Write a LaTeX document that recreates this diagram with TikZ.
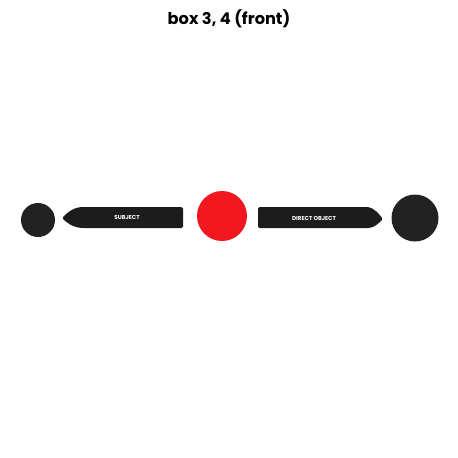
\documentclass[tikz,border=0pt]{standalone}
\usepackage{fontspec}
\setmainfont{Poppins}
\definecolor{darkfill}{HTML}{222222}
\definecolor{barfill}{HTML}{1C1C1C}
\definecolor{redfill}{HTML}{F2161E}
\begin{document}
\begin{tikzpicture}[x=1pt,y=-1pt,
  disc/.style={circle,fill=darkfill,inner sep=0pt},
  barlabel/.style={text=white,font=\fontsize{5.7}{6}\selectfont\bfseries,inner sep=0pt}]
\useasboundingbox (0,0) rectangle (458,458);
\node[font=\fontsize{16.2}{19}\selectfont\bfseries] (title) at (229,18.5) {box 3, 4 (front)};
\node[disc,minimum size=34pt] (leftc) at (38,220) {};
\node[circle,fill=redfill,inner sep=0pt,minimum size=50pt] (redc) at (222,216) {};
\node[disc,minimum size=47pt] (rightc) at (415,218) {};
% subject bar
\fill[barfill,rounded corners=1.5pt] (183,207) -- (183,228) -- (82,228)
  .. controls (72,227) and (66,222) .. (62,218) .. controls (66,214) and (72,208) .. (82,207) -- cycle;
\node[barlabel] (subj) at (127,217.5) {SUBJECT};
% direct object bar
\fill[barfill,rounded corners=1.5pt] (258,207) -- (367,207)
  .. controls (374,208) and (379,214) .. (383,219) .. controls (379,223) and (374,228) .. (367,228) -- (258,228) -- cycle;
\node[barlabel] (dobj) at (314,218.5) {DIRECT OBJECT};
\end{tikzpicture}
\end{document}
